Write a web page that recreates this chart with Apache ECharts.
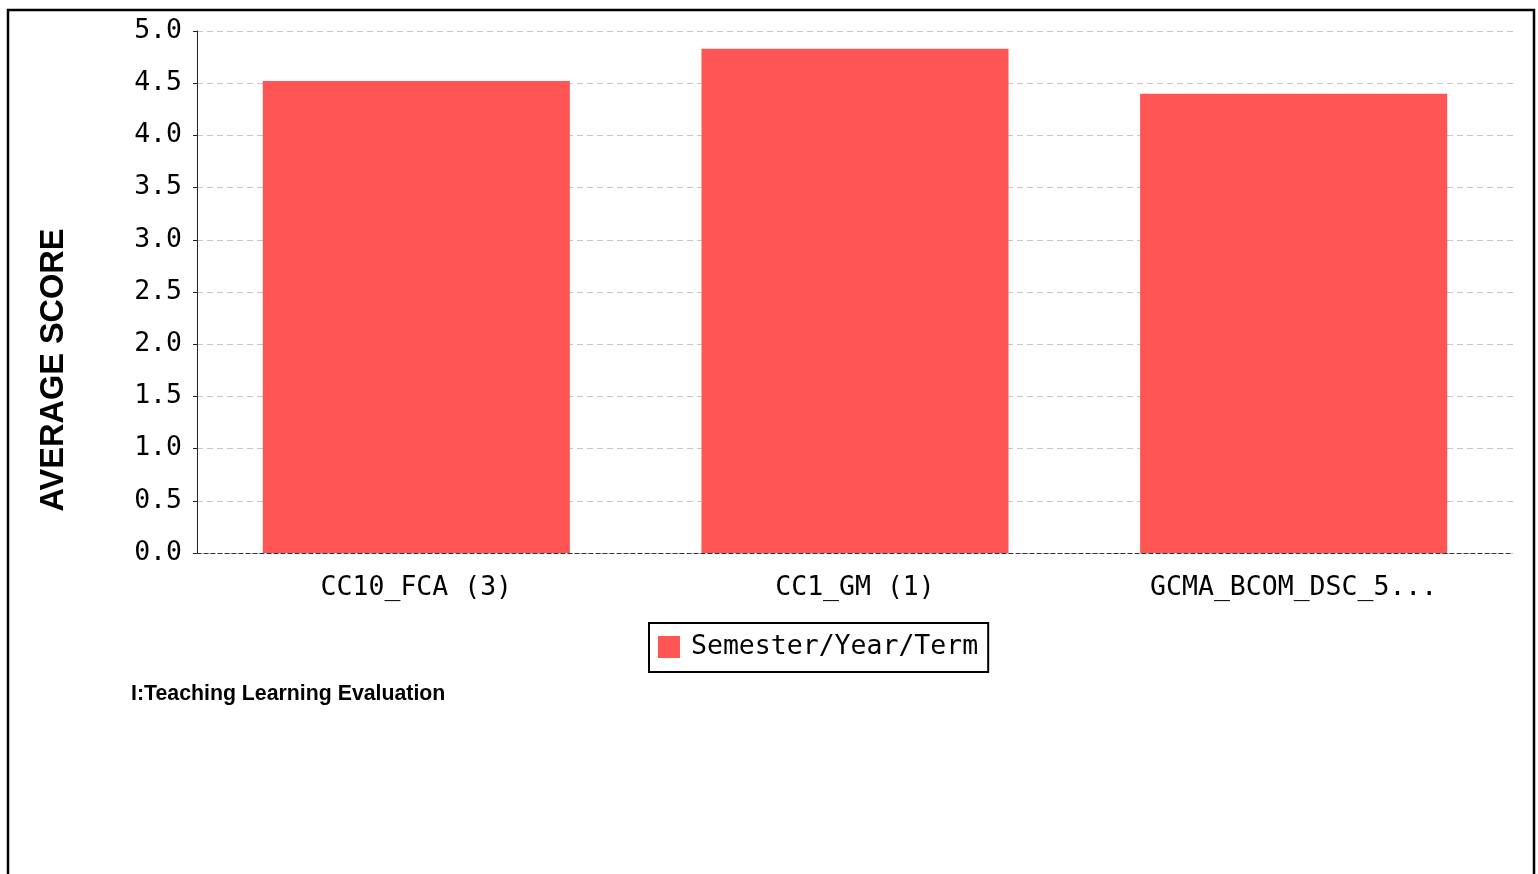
<!DOCTYPE html>
<html>
<head>
<meta charset="utf-8">
<script src="https://cdn.jsdelivr.net/npm/echarts@6/dist/echarts.min.js"></script>
<style>
  html, body { margin: 0; padding: 0; background: #fff; }
  #chart { width: 1538px; height: 874px; }
</style>
</head>
<body>
<div id="chart"></div>
<script>
// data
const categories = ['CC10_FCA (3)', 'CC1_GM (1)', 'GCMA_BCOM_DSC_5...']
const scores = [4.52, 4.83, 4.40]
const seriesName = 'Semester/Year/Term'
const yTicks = [0, 0.5, 1, 1.5, 2, 2.5, 3, 3.5, 4, 4.5, 5]

const mono = 'DejaVu Sans Mono'
const sans = 'Liberation Sans'

const chart = echarts.init(document.getElementById('chart'))

const option = {
  animation: false,
  backgroundColor: '#fff',
  color: ['#ff5555'],
  grid: { left: 197, right: 25, top: 31, bottom: 321 },
  legend: {
    data: [seriesName],
    left: 649,
    top: 623,
    padding: [9, 10, 10, 9],
    borderColor: '#000',
    borderWidth: 2,
    itemWidth: 22,
    itemHeight: 22,
    itemGap: 10,
    icon: 'rect',
    textStyle: {
      fontFamily: mono, fontSize: 26.5, color: '#000',
      verticalAlign: 'middle', lineHeight: 26, padding: [4, 0, 0, 6]
    }
  },
  xAxis: {
    type: 'category',
    data: categories,
    axisLine: { lineStyle: { color: '#333', type: [4, 3], width: 1 } },
    axisTick: { alignWithLabel: true, length: 4, lineStyle: { color: '#555' } },
    axisLabel: { fontFamily: mono, fontSize: 26.5, color: '#000', margin: 22 }
  },
  yAxis: {
    type: 'value',
    min: 0,
    max: yTicks[yTicks.length - 1],
    interval: 0.5,
    axisLine: { show: true, lineStyle: { color: '#222', width: 1 } },
    axisTick: { show: true, length: 4, lineStyle: { color: '#222' } },
    axisLabel: {
      fontFamily: mono, fontSize: 26.5, color: '#000', margin: 15,
      formatter: v => v.toFixed(1)
    },
    splitLine: { lineStyle: { color: '#c8c8c8', type: [6, 4], width: 1 } }
  },
  series: [{
    name: seriesName,
    type: 'bar',
    data: scores,
    barWidth: '70%',
    itemStyle: { color: '#ff5555' }
  }],
  graphic: [
    {
      type: 'rect',
      shape: { x: 8, y: 10, width: 1526, height: 900 },
      style: { fill: 'none', stroke: '#000', lineWidth: 2.5 },
      silent: true
    },
    {
      type: 'text',
      x: 54,
      y: 370,
      rotation: Math.PI / 2,
      style: {
        text: 'AVERAGE SCORE',
        fontFamily: sans,
        fontWeight: 'bold',
        fontSize: 32.5,
        fill: '#000',
        align: 'center',
        verticalAlign: 'middle'
      }
    },
    {
      type: 'text',
      x: 131,
      y: 694,
      style: {
        text: 'I:Teaching Learning Evaluation',
        fontFamily: sans,
        fontWeight: 'bold',
        fontSize: 21.3,
        fill: '#000',
        align: 'left',
        verticalAlign: 'middle'
      }
    }
  ]
}

chart.setOption(option)
</script>
</body>
</html>
